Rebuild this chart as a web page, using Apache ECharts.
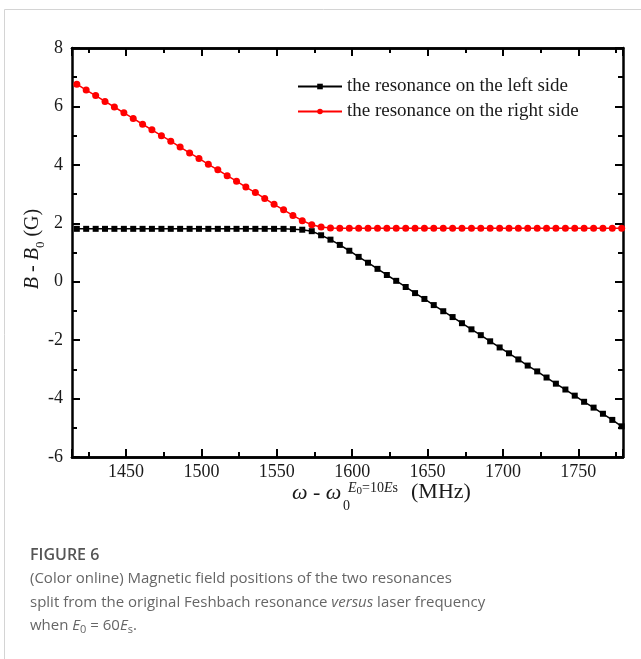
<!DOCTYPE html>
<html><head><meta charset="utf-8">
<script src="https://cdn.jsdelivr.net/npm/echarts@6/dist/echarts.min.js"></script>
<style>html,body{margin:0;padding:0;background:#fff}#c{width:641px;height:659px}</style>
</head><body><div id="c"></div>
<script>
// ---- data ----
const xValues = [1417.4, 1423.6, 1429.9, 1436.1, 1442.3, 1448.6, 1454.8, 1461.0, 1467.2, 1473.5,
  1479.7, 1485.9, 1492.2, 1498.4, 1504.6, 1510.9, 1517.1, 1523.3, 1529.5, 1535.8,
  1542.0, 1548.2, 1554.5, 1560.7, 1566.9, 1573.2, 1579.4, 1585.6, 1591.8, 1598.1,
  1604.3, 1610.5, 1616.8, 1623.0, 1629.2, 1635.5, 1641.7, 1647.9, 1654.1, 1660.4,
  1666.6, 1672.8, 1679.1, 1685.3, 1691.5, 1697.8, 1704.0, 1710.2, 1716.4, 1722.7,
  1728.9, 1735.1, 1741.4, 1747.6, 1753.8, 1760.1, 1766.3, 1772.5, 1778.7];
const leftSide = [1.81, 1.81, 1.81, 1.81, 1.81, 1.81, 1.81, 1.81, 1.81, 1.81,
  1.81, 1.81, 1.81, 1.81, 1.81, 1.81, 1.81, 1.81, 1.81, 1.81,
  1.81, 1.81, 1.81, 1.80, 1.78, 1.73, 1.59, 1.44, 1.26, 1.06,
  0.85, 0.65, 0.44, 0.23, 0.03, -0.18, -0.39, -0.59, -0.80, -1.01,
  -1.21, -1.42, -1.63, -1.83, -2.04, -2.25, -2.45, -2.66, -2.87, -3.07,
  -3.28, -3.49, -3.69, -3.90, -4.11, -4.31, -4.52, -4.73, -4.95];
const rightSide = [6.76, 6.56, 6.37, 6.17, 5.98, 5.78, 5.59, 5.39, 5.20, 5.00,
  4.81, 4.61, 4.41, 4.22, 4.02, 3.83, 3.63, 3.44, 3.24, 3.05,
  2.85, 2.65, 2.46, 2.27, 2.09, 1.95, 1.87, 1.84, 1.83, 1.83,
  1.83, 1.83, 1.83, 1.83, 1.83, 1.83, 1.83, 1.83, 1.83, 1.83,
  1.83, 1.83, 1.83, 1.83, 1.83, 1.83, 1.83, 1.83, 1.83, 1.83,
  1.83, 1.83, 1.83, 1.83, 1.83, 1.83, 1.83, 1.83, 1.83];
const seriesNames = ['the resonance on the left side', 'the resonance on the right side'];
const xRange = [1414.2, 1779.6];
const yRange = [-6, 8];
const xMajorStep = 50, xMinorStep = 25, yStep = 2;
const captionTitle = 'FIGURE 6';
const captionLines = [
  '{n|(Color online) Magnetic field positions of the two resonances}',
  '{n|split from the original Feshbach resonance }{it|versus}{n| laser frequency}',
  '{n|when }{it|E}{sub|0}{n| = 60}{it|E}{sub|s}{n|.}'
];

// ---- chart ----
const SERIF = "'Liberation Serif', 'Times New Roman', serif";
const SANS = "'Open Sans', 'Noto Sans', sans-serif";
const chart = echarts.init(document.getElementById('c'), null, {renderer: 'canvas'});

function xAxisCfg(pos, step, tickLen, labels) {
  return {
    type: 'value', position: pos, min: xRange[0], max: xRange[1],
    minInterval: step, maxInterval: step, splitNumber: 8,
    axisLine: {show: true, onZero: false, lineStyle: {color: '#000', width: 2.5}},
    axisTick: {show: true, inside: true, length: tickLen, lineStyle: {color: '#000', width: 2}},
    axisLabel: labels ? {
      show: true, margin: 6, fontFamily: SERIF, fontSize: 18, color: '#1a1a1a',
      formatter: v => (Math.abs(v / xMajorStep - Math.round(v / xMajorStep)) < 1e-6 ? String(Math.round(v)) : '')
    } : {show: false},
    splitLine: {show: false}, minorTick: {show: false}, minorSplitLine: {show: false}
  };
}
function yAxisCfg(pos, labels) {
  return {
    type: 'value', position: pos, min: yRange[0], max: yRange[1], interval: yStep,
    axisLine: {show: true, onZero: false, lineStyle: {color: '#000', width: 2.5}},
    axisTick: {show: true, inside: true, length: 8, lineStyle: {color: '#000', width: 2}},
    minorTick: {show: true, splitNumber: 2, length: 5, lineStyle: {color: '#000', width: 2}},
    axisLabel: labels ? {show: true, margin: 9, fontFamily: SERIF, fontSize: 18, color: '#1a1a1a'} : {show: false},
    splitLine: {show: false}, minorSplitLine: {show: false}
  };
}

const option = {
  animation: false,
  backgroundColor: '#fff',
  grid: {left: 72, right: 18, top: 48, bottom: 202, containLabel: false},
  xAxis: [
    xAxisCfg('bottom', xMajorStep, 8, true),
    xAxisCfg('bottom', xMinorStep, 5, false),
    xAxisCfg('top', xMajorStep, 8, false),
    xAxisCfg('top', xMinorStep, 5, false)
  ],
  yAxis: [yAxisCfg('left', true), yAxisCfg('right', false)],
  legend: {
    orient: 'vertical', left: 292, top: 72, itemWidth: 44, itemHeight: 7, itemGap: 6,
    selectedMode: false,
    textStyle: {fontFamily: SERIF, fontSize: 19, color: '#1a1a1a', lineHeight: 19},
    data: seriesNames
  },
  series: [
    {
      name: seriesNames[0], type: 'line', xAxisIndex: 0, yAxisIndex: 0,
      data: xValues.map((x, i) => [x, leftSide[i]]),
      symbol: 'rect', symbolSize: 6, showSymbol: true,
      lineStyle: {color: '#000', width: 1.5}, itemStyle: {color: '#000'}
    },
    {
      name: seriesNames[1], type: 'line', xAxisIndex: 0, yAxisIndex: 0,
      data: xValues.map((x, i) => [x, rightSide[i]]),
      symbol: 'circle', symbolSize: 7, showSymbol: true,
      lineStyle: {color: '#ff0000', width: 1.5}, itemStyle: {color: '#ff0000'}
    }
  ],
  graphic: [
    {type: 'rect', shape: {x: 4.5, y: 9.5, width: 700, height: 700}, style: {fill: 'none', stroke: '#d4d4d4', lineWidth: 1}, silent: true},
    {
      type: 'text', x: 33, y: 249, rotation: Math.PI / 2,
      style: {
        text: '{i|B} - {i|B}{sub|0} (G)', align: 'center', verticalAlign: 'middle',
        fontFamily: SERIF, fontSize: 20, fill: '#1a1a1a',
        rich: {
          i: {fontFamily: SERIF, fontSize: 20, fontStyle: 'italic', lineHeight: 28, verticalAlign: 'middle'},
          sub: {fontFamily: SERIF, fontSize: 13, lineHeight: 12, verticalAlign: 'bottom'}
        }
      }
    },
    // x-axis title pieces
    {
      type: 'text', x: 292, y: 493,
      style: {
        text: '{i|ω}{n| - }{i|ω}', align: 'left', verticalAlign: 'middle',
        fontFamily: SERIF, fontSize: 22, fill: '#1a1a1a',
        rich: {
          i: {fontFamily: SERIF, fontSize: 22, fontStyle: 'italic'},
          n: {fontFamily: SERIF, fontSize: 22}
        }
      }
    },
    {
      type: 'text', x: 343, y: 506,
      style: {text: '0', align: 'left', verticalAlign: 'middle', fontFamily: SERIF, fontSize: 14, fill: '#1a1a1a'}
    },
    {
      type: 'text', x: 348, y: 488,
      style: {
        text: '{i|E}{s|0}{n|=10}{i|E}{n|s}', align: 'left', verticalAlign: 'middle',
        fontFamily: SERIF, fontSize: 14, fill: '#1a1a1a',
        rich: {
          i: {fontFamily: SERIF, fontSize: 14, fontStyle: 'italic', lineHeight: 18, verticalAlign: 'middle'},
          n: {fontFamily: SERIF, fontSize: 14, lineHeight: 18, verticalAlign: 'middle'},
          s: {fontFamily: SERIF, fontSize: 11, lineHeight: 12, verticalAlign: 'bottom'}
        }
      }
    },
    {
      type: 'text', x: 411, y: 492,
      style: {text: '(MHz)', align: 'left', verticalAlign: 'middle', fontFamily: SERIF, fontSize: 22, fill: '#1a1a1a'}
    },
    {
      type: 'text', x: 30, y: 555,
      style: {text: captionTitle, fontFamily: SANS, fontSize: 16, fontWeight: 600, fill: '#555', verticalAlign: 'middle'}
    }
  ].concat(captionLines.map((t, k) => ({
    type: 'text', x: 30, y: 579 + k * 23.3,
    style: {
      text: t, verticalAlign: 'middle', fontFamily: SANS, fontSize: 15, fill: '#666',
      rich: {
        n: {fontFamily: SANS, fontSize: 15, lineHeight: 20, verticalAlign: 'middle', color: '#666'},
        it: {fontFamily: SANS, fontSize: 15, fontStyle: 'italic', lineHeight: 20, verticalAlign: 'middle', color: '#666'},
        sub: {fontFamily: SANS, fontSize: 11, lineHeight: 11, verticalAlign: 'bottom', color: '#666'}
      }
    }
  })))
};
chart.setOption(option);
</script></body></html>
